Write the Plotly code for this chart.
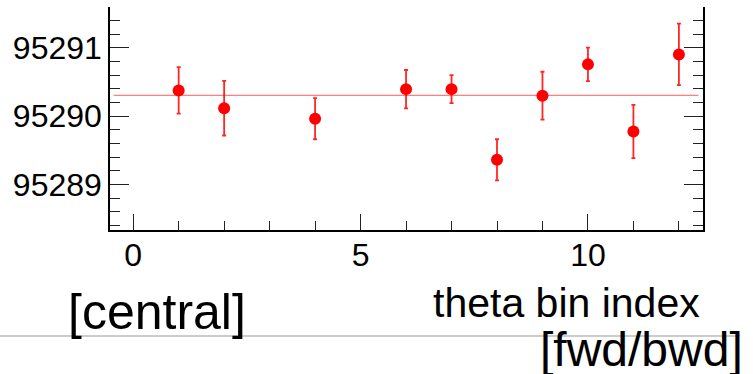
import plotly.graph_objects as go

# Theta bin index and fitted mass value per bin
bin_index = [1, 2, 4, 6, 7, 8, 9, 10, 11, 12]
mass_value = [95290.376, 95290.117, 95289.962, 95290.395, 95290.395,
              95289.362, 95290.299, 95290.757, 95289.776, 95290.903]
mass_error = [0.34, 0.40, 0.30, 0.28, 0.205, 0.30, 0.35, 0.245, 0.39, 0.45]

# Constant fitted across all bins
fit_value = 95290.303
fit_span = [-0.43, 12.43]

x_range = [-0.51, 12.53]
y_range = [95288.335, 95291.596]

FONT = "Liberation Sans, Arial, Helvetica, sans-serif"
W, H = 753, 374
M_L, M_R, M_T, M_B = 110, 50, 7, 144
plot_w = W - M_L - M_R
plot_h = H - M_T - M_B


def px_x(px):
    return (px - M_L) / plot_w


def px_y(py):
    return (H - M_B - py) / plot_h


fig = go.Figure()

# fit line
fig.add_trace(go.Scatter(
    x=fit_span, y=[fit_value, fit_value], mode="lines",
    line=dict(color="rgba(255,0,0,0.5)", width=1.3),
    hoverinfo="skip", showlegend=False,
))

# measured points
fig.add_trace(go.Scatter(
    x=bin_index, y=mass_value, mode="markers",
    marker=dict(color="#ff0000", size=12, line=dict(width=0)),
    error_y=dict(type="data", array=mass_error, visible=True,
                 color="rgba(255,0,0,0.85)", thickness=1.8, width=2),
    showlegend=False,
))

fig.update_xaxes(
    range=x_range, dtick=5, tick0=0, automargin=False,
    showgrid=False, zeroline=False,
    showline=True, linecolor="#000000", linewidth=1.5, mirror=False,
    ticks="inside", ticklen=16, tickwidth=1.2, tickcolor="#222222",
    minor=dict(dtick=1, ticks="inside", ticklen=9, tickwidth=1.2,
               tickcolor="#222222", showgrid=False),
    tickfont=dict(family=FONT, size=32, color="#000000"),
    ticklabelstandoff=-4,
)
fig.update_yaxes(
    range=y_range, dtick=1, tick0=0, tickformat="d", automargin=False,
    showgrid=False, zeroline=False,
    showline=True, linecolor="#000000", linewidth=1.5, mirror="ticks",
    ticks="inside", ticklen=19, tickwidth=1.2, tickcolor="#222222",
    minor=dict(dtick=0.2, ticks="inside", ticklen=10, tickwidth=1.2,
               tickcolor="#222222", showgrid=False),
    tickfont=dict(family=FONT, size=32, color="#000000"),
    ticklabelstandoff=0,
)

fig.add_shape(
    type="line", xref="paper", yref="paper",
    x0=px_x(0), x1=px_x(740), y0=px_y(336), y1=px_y(336),
    line=dict(color="#999999", width=1), layer="below",
)

fig.add_annotation(
    text="theta bin index", xref="paper", yref="paper",
    x=px_x(702), y=px_y(303), xanchor="right", yanchor="middle",
    showarrow=False, font=dict(family=FONT, size=41, color="#000000"),
)
fig.add_annotation(
    text="[central]", xref="paper", yref="paper",
    x=px_x(66), y=px_y(312), xanchor="left", yanchor="middle",
    showarrow=False, font=dict(family=FONT, size=50, color="#000000"),
)
fig.add_annotation(
    text="[fwd/bwd]", xref="paper", yref="paper",
    x=px_x(538), y=px_y(349), xanchor="left", yanchor="middle",
    showarrow=False, font=dict(family=FONT, size=48, color="#000000"),
)

fig.update_layout(
    width=W, height=H,
    margin=dict(l=M_L, r=M_R, t=M_T, b=M_B, pad=0),
    paper_bgcolor="#ffffff", plot_bgcolor="#ffffff",
    showlegend=False,
)

fig.write_html("out.html")
